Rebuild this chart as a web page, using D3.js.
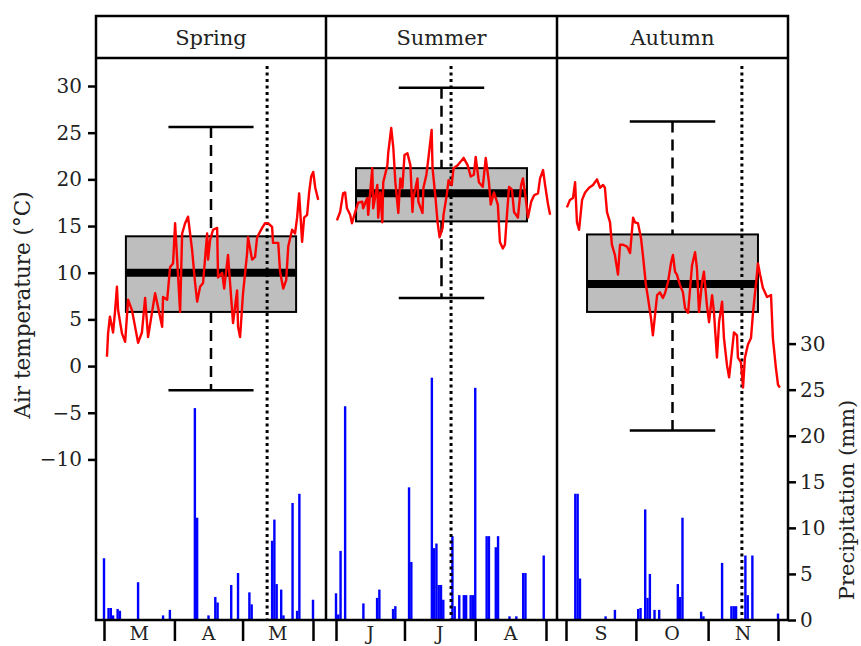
<!DOCTYPE html>
<html>
<head>
<meta charset="utf-8">
<script src="https://d3js.org/d3.v7.min.js"></script>
<style>
body { margin: 0; background: #fff; }
text { font-family: "DejaVu Serif", serif; font-size: 20px; fill: #222; }
</style>
</head>
<body>
<svg id="chart"></svg>
<script>
// ---- data ----
var seasons = ["Spring", "Summer", "Autumn"];
var monthLabels = [["M", "A", "M"], ["J", "J", "A"], ["S", "O", "N"]];
var monthStarts = [[0, 31, 61, 92], [0, 30, 61, 92], [0, 30, 61, 91]];
var tempTicks = [-10, -5, 0, 5, 10, 15, 20, 25, 30];
var precipTicks = [0, 5, 10, 15, 20, 25, 30];

// box plot stats per season (degC)
var boxLow = [-2.6, 7.3, -6.9];
var boxQ1 = [5.8, 15.5, 5.8];
var boxMed = [10.0, 18.5, 8.8];
var boxQ3 = [13.9, 21.2, 14.1];
var boxHigh = [25.6, 29.8, 26.2];
// sampling day (dotted line), days from season start
var sampleDay = [71.8, 50.4, 75.5];

// [day of season, air temperature]
var springTemp = [[1.3,1.0],[1.8,3.5],[2.6,5.3],[4.0,3.6],[4.8,5.7],[5.7,8.5],[6.2,6.0],[7.9,3.5],[9.3,2.6],[10.6,7.1],[12.3,6.0],[13.7,4.2],[15.0,2.5],[16.7,3.6],[18.1,7.3],[19.4,3.1],[21.1,5.7],[22.5,7.8],[23.8,6.3],[25.6,4.2],[26.0,7.4],[27.8,7.1],[29.1,10.6],[30.4,11.0],[31.3,15.3],[32.2,11.4],[33.5,5.8],[34.4,14.2],[35.7,15.3],[37.0,16.0],[38.8,12.4],[40.1,8.9],[41.0,6.9],[42.3,8.5],[43.6,8.9],[45.4,14.2],[45.8,11.4],[46.7,13.5],[48.0,14.6],[49.8,14.8],[50.2,9.5],[52.0,10.0],[52.9,8.3],[54.6,11.9],[55.5,8.9],[56.8,4.6],[58.6,8.1],[59.0,4.2],[59.9,3.1],[61.2,7.8],[63.0,12.1],[63.4,13.8],[65.2,11.4],[66.5,11.7],[67.4,13.8],[69.6,14.8],[70.9,15.3],[72.2,15.3],[74.0,14.9],[74.4,13.2],[76.7,13.2],[77.5,10.1],[78.9,8.3],[80.2,9.2],[81.1,12.8],[82.8,14.6],[84.1,14.2],[85.0,15.9],[85.9,18.5],[87.2,13.3],[88.1,15.9],[89.4,16.2],[90.3,18.6],[91.2,20.3],[92.1,20.8],[93.0,19.1],[94.3,17.8]];
var summerTemp = [[0.4,15.6],[1.8,16.5],[3.1,18.5],[4.0,18.6],[4.8,16.9],[6.2,16.2],[7.0,15.3],[8.4,16.5],[9.7,17.5],[11.5,17.6],[11.9,16.9],[13.7,18.0],[14.1,16.2],[15.9,21.2],[16.3,16.9],[18.1,19.4],[18.5,15.9],[19.4,18.6],[20.3,15.4],[20.7,19.7],[22.5,21.5],[22.9,22.9],[24.2,25.5],[25.1,23.4],[26.0,19.7],[27.3,16.4],[28.2,20.1],[29.1,19.1],[30.0,22.6],[31.3,22.8],[32.6,21.5],[33.5,16.5],[33.9,18.0],[35.7,20.1],[36.1,17.6],[37.9,16.4],[38.3,19.1],[39.6,20.5],[40.5,22.3],[41.9,25.3],[42.3,21.2],[43.6,18.0],[44.5,15.4],[45.4,13.8],[46.7,14.8],[47.1,16.2],[48.5,18.3],[49.3,19.9],[50.7,19.4],[51.5,21.2],[53.3,21.5],[54.6,21.9],[55.9,22.3],[57.7,21.5],[59.0,20.3],[60.4,20.5],[61.2,22.4],[62.6,19.7],[64.3,19.2],[65.6,22.3],[67.0,19.7],[67.8,17.3],[69.2,18.6],[70.9,17.3],[71.8,13.3],[73.1,12.6],[74.0,13.0],[74.9,16.2],[75.8,19.2],[77.1,18.9],[78.0,16.5],[79.7,15.9],[81.1,19.4],[81.9,20.1],[83.3,17.6],[84.1,15.9],[85.5,17.6],[86.8,18.3],[88.5,18.5],[89.4,20.1],[90.7,21.0],[91.6,19.4],[92.9,17.3],[93.8,16.2]];
var autumnTemp = [[0.4,17.0],[1.7,17.8],[3.0,18.0],[3.9,19.7],[4.7,15.4],[5.6,14.6],[6.9,17.8],[8.2,18.6],[9.9,19.1],[11.6,19.4],[13.3,20.0],[14.6,19.1],[15.9,19.4],[16.7,19.1],[17.6,16.5],[18.9,15.4],[19.7,13.0],[21.0,11.9],[22.3,9.8],[23.2,13.0],[24.5,13.0],[26.2,12.8],[27.5,12.1],[28.8,15.9],[29.6,15.4],[30.9,15.3],[32.2,13.7],[33.0,11.9],[34.3,8.7],[35.2,7.3],[36.5,5.1],[37.3,3.3],[39.1,7.6],[40.3,7.9],[41.6,7.3],[42.5,7.8],[43.8,9.0],[45.1,11.1],[45.9,11.9],[46.8,10.1],[47.6,9.8],[48.9,8.7],[50.2,7.9],[51.1,6.2],[52.4,5.7],[54.1,10.8],[55.4,12.2],[56.2,10.5],[57.1,5.8],[58.4,9.0],[59.2,10.1],[60.5,6.5],[61.4,4.7],[62.7,7.6],[63.5,5.8],[64.8,0.9],[65.7,4.7],[67.0,6.9],[67.8,3.0],[69.1,0.1],[70.0,-1.2],[71.2,1.5],[72.1,3.6],[73.4,3.3],[73.8,0.9],[75.1,0.4],[76.0,-2.3],[76.8,0.9],[78.1,2.3],[79.4,3.0],[80.3,5.8],[81.5,8.7],[82.4,11.0],[83.3,9.8],[84.5,8.4],[86.3,7.4],[88.0,7.6],[88.8,3.0],[90.1,-0.2],[91.0,-2.0],[91.8,-2.3]];

// [day of season, precipitation mm]
var springRain = [[0,6.7],[2,1.3],[3,1.3],[4,0.5],[6,1.2],[7,1.0],[15,4.1],[26,0.5],[29,1.1],[40,23.0],[41,11.1],[46,0.5],[49,2.5],[50,1.9],[56,3.8],[59,5.1],[64,3.0],[65,1.7],[74,8.6],[75,10.9],[76,3.9],[78,3.3],[79,0.5],[83,12.7],[85,1.0],[86,13.7],[92,2.2]];
var summerRain = [[0,2.9],[1,0.6],[2,7.5],[4,23.2],[12,1.8],[18,2.4],[19,3.3],[25,1.2],[26,1.5],[32,14.4],[33,6.3],[42,26.3],[43,7.8],[44,8.3],[45,3.8],[46,3.8],[47,2.2],[51,9.1],[52,1.5],[54,2.7],[56,2.7],[57,2.7],[59,2.7],[60,2.7],[61,25.2],[66,9.1],[67,9.1],[70,7.9],[71,9.1],[76,0.4],[79,0.4],[82,5.1],[83,5.1],[91,7.0]];
var autumnRain = [[4,13.7],[5,13.7],[6,4.5],[17,0.4],[21,1.1],[31,1.2],[32,1.3],[34,12.0],[35,2.4],[36,5.0],[38,1.1],[40,1.1],[48,3.9],[49,2.5],[50,11.1],[58,0.9],[59,0.4],[67,6.2],[71,1.5],[72,1.5],[73,1.5],[77,7.0],[78,2.7],[80,7.0],[91,0.7]];

var tempData = [springTemp, summerTemp, autumnTemp];
var rainData = [springRain, summerRain, autumnRain];

// ---- layout ----
var W = 861, H = 646;
var headTop = 16, plotTop = 58, plotBottom = 620;
var panelX = [96, 326, 557, 788];
var padL = [8, 10, 9], padR = [13, 11, 10];

var svg = d3.select("#chart").attr("width", W).attr("height", H);

var yT = d3.scaleLinear().domain([-27.2, 33]).range([plotBottom, plotTop]);
var yP = d3.scaleLinear().domain([0, 61]).range([plotBottom, plotTop]);

seasons.forEach(function(name, i) {
    var x0 = panelX[i], x1 = panelX[i + 1];
    var x = d3.scaleLinear()
        .domain([0, monthStarts[i][3]])
        .range([x0 + padL[i], x1 - padR[i]]);
    var g = svg.append("g");

    // precipitation bars
    g.selectAll(".bar")
        .data(rainData[i])
        .enter()
        .append("rect")
        .attr("x", function(d) { return x(d[0]) - 1.2; })
        .attr("width", 2.4)
        .attr("y", function(d) { return yP(d[1]); })
        .attr("height", function(d) { return yP(0) - yP(d[1]); })
        .attr("fill", "#0000ff");

    // box plot
    var cx = (x0 + x1) / 2;
    var bw = (x1 - x0) * 0.74, cw = (x1 - x0) * 0.37;
    g.append("line")
        .attr("x1", cx).attr("x2", cx)
        .attr("y1", yT(boxHigh[i])).attr("y2", yT(boxQ3[i]))
        .attr("stroke", "#000").attr("stroke-width", 2.5)
        .attr("stroke-dasharray", "11,7");
    g.append("line")
        .attr("x1", cx).attr("x2", cx)
        .attr("y1", yT(boxQ1[i])).attr("y2", yT(boxLow[i]))
        .attr("stroke", "#000").attr("stroke-width", 2.5)
        .attr("stroke-dasharray", "11,7");
    [boxHigh[i], boxLow[i]].forEach(function(v) {
        g.append("line")
            .attr("x1", cx - cw / 2).attr("x2", cx + cw / 2)
            .attr("y1", yT(v)).attr("y2", yT(v))
            .attr("stroke", "#000").attr("stroke-width", 2.5);
    });
    g.append("rect")
        .attr("x", cx - bw / 2).attr("width", bw)
        .attr("y", yT(boxQ3[i])).attr("height", yT(boxQ1[i]) - yT(boxQ3[i]))
        .attr("fill", "#bebebe").attr("stroke", "#000").attr("stroke-width", 2);
    g.append("line")
        .attr("x1", cx - bw / 2).attr("x2", cx + bw / 2)
        .attr("y1", yT(boxMed[i])).attr("y2", yT(boxMed[i]))
        .attr("stroke", "#000").attr("stroke-width", 8);

    // sampling date
    g.append("line")
        .attr("x1", x(sampleDay[i])).attr("x2", x(sampleDay[i]))
        .attr("y1", plotTop + 8).attr("y2", plotBottom)
        .attr("stroke", "#000").attr("stroke-width", 3)
        .attr("stroke-dasharray", "3,3.5");

    // air temperature
    var line = d3.line()
        .x(function(d) { return x(d[0]); })
        .y(function(d) { return yT(d[1]); });
    g.append("path")
        .datum(tempData[i])
        .attr("d", line)
        .attr("fill", "none")
        .attr("stroke", "#ff0000")
        .attr("stroke-width", 2.4)
        .attr("stroke-linejoin", "round");

    // month axis
    var ax = g.append("g")
        .attr("transform", "translate(0," + plotBottom + ")")
        .call(d3.axisBottom(x).tickValues(monthStarts[i]).tickSize(21).tickFormat(""));
    ax.select(".domain").remove();
    ax.selectAll("line").attr("stroke", "#000").attr("stroke-width", 2.5);
    monthLabels[i].forEach(function(m, k) {
        g.append("text")
            .attr("x", x((monthStarts[i][k] + monthStarts[i][k + 1]) / 2))
            .attr("y", 640)
            .attr("text-anchor", "middle")
            .style("font-size", "19px")
            .text(m);
    });

    // header label
    svg.append("text")
        .attr("x", cx).attr("y", 45)
        .attr("text-anchor", "middle")
        .style("font-size", "21px")
        .text(name);
});

// frame
svg.append("rect")
    .attr("x", panelX[0]).attr("y", headTop)
    .attr("width", panelX[3] - panelX[0]).attr("height", plotBottom - headTop)
    .attr("fill", "none").attr("stroke", "#000").attr("stroke-width", 2.5);
svg.append("line")
    .attr("x1", panelX[0]).attr("x2", panelX[3])
    .attr("y1", plotTop).attr("y2", plotTop)
    .attr("stroke", "#000").attr("stroke-width", 2.5);
[panelX[1], panelX[2]].forEach(function(px) {
    svg.append("line")
        .attr("x1", px).attr("x2", px)
        .attr("y1", headTop).attr("y2", plotBottom)
        .attr("stroke", "#000").attr("stroke-width", 2.5);
});

// left axis
var left = svg.append("g")
    .attr("transform", "translate(" + panelX[0] + ",0)")
    .call(d3.axisLeft(yT).tickValues(tempTicks).tickSize(8).tickPadding(6));
left.select(".domain").remove();
left.selectAll("line").attr("stroke", "#000").attr("stroke-width", 2.5);
left.selectAll("text").style("font-size", "20px").style("font-family", "DejaVu Serif").attr("fill", "#222");

// right axis
var right = svg.append("g")
    .attr("transform", "translate(" + panelX[3] + ",0)")
    .call(d3.axisRight(yP).tickValues(precipTicks).tickSize(8).tickPadding(4));
right.select(".domain").remove();
right.selectAll("line").attr("stroke", "#000").attr("stroke-width", 2.5);
right.selectAll("text").style("font-size", "20px").style("font-family", "DejaVu Serif").attr("fill", "#222");

// axis titles
svg.append("text")
    .attr("transform", "translate(22,305) rotate(-90)")
    .attr("text-anchor", "middle")
    .attr("dominant-baseline", "central")
    .style("font-size", "21.5px")
    .text("Air temperature (°C)");
svg.append("text")
    .attr("transform", "translate(847,500) rotate(-90)")
    .attr("text-anchor", "middle")
    .attr("dominant-baseline", "central")
    .style("font-size", "21px")
    .text("Precipitation (mm)");
</script>
</body>
</html>
